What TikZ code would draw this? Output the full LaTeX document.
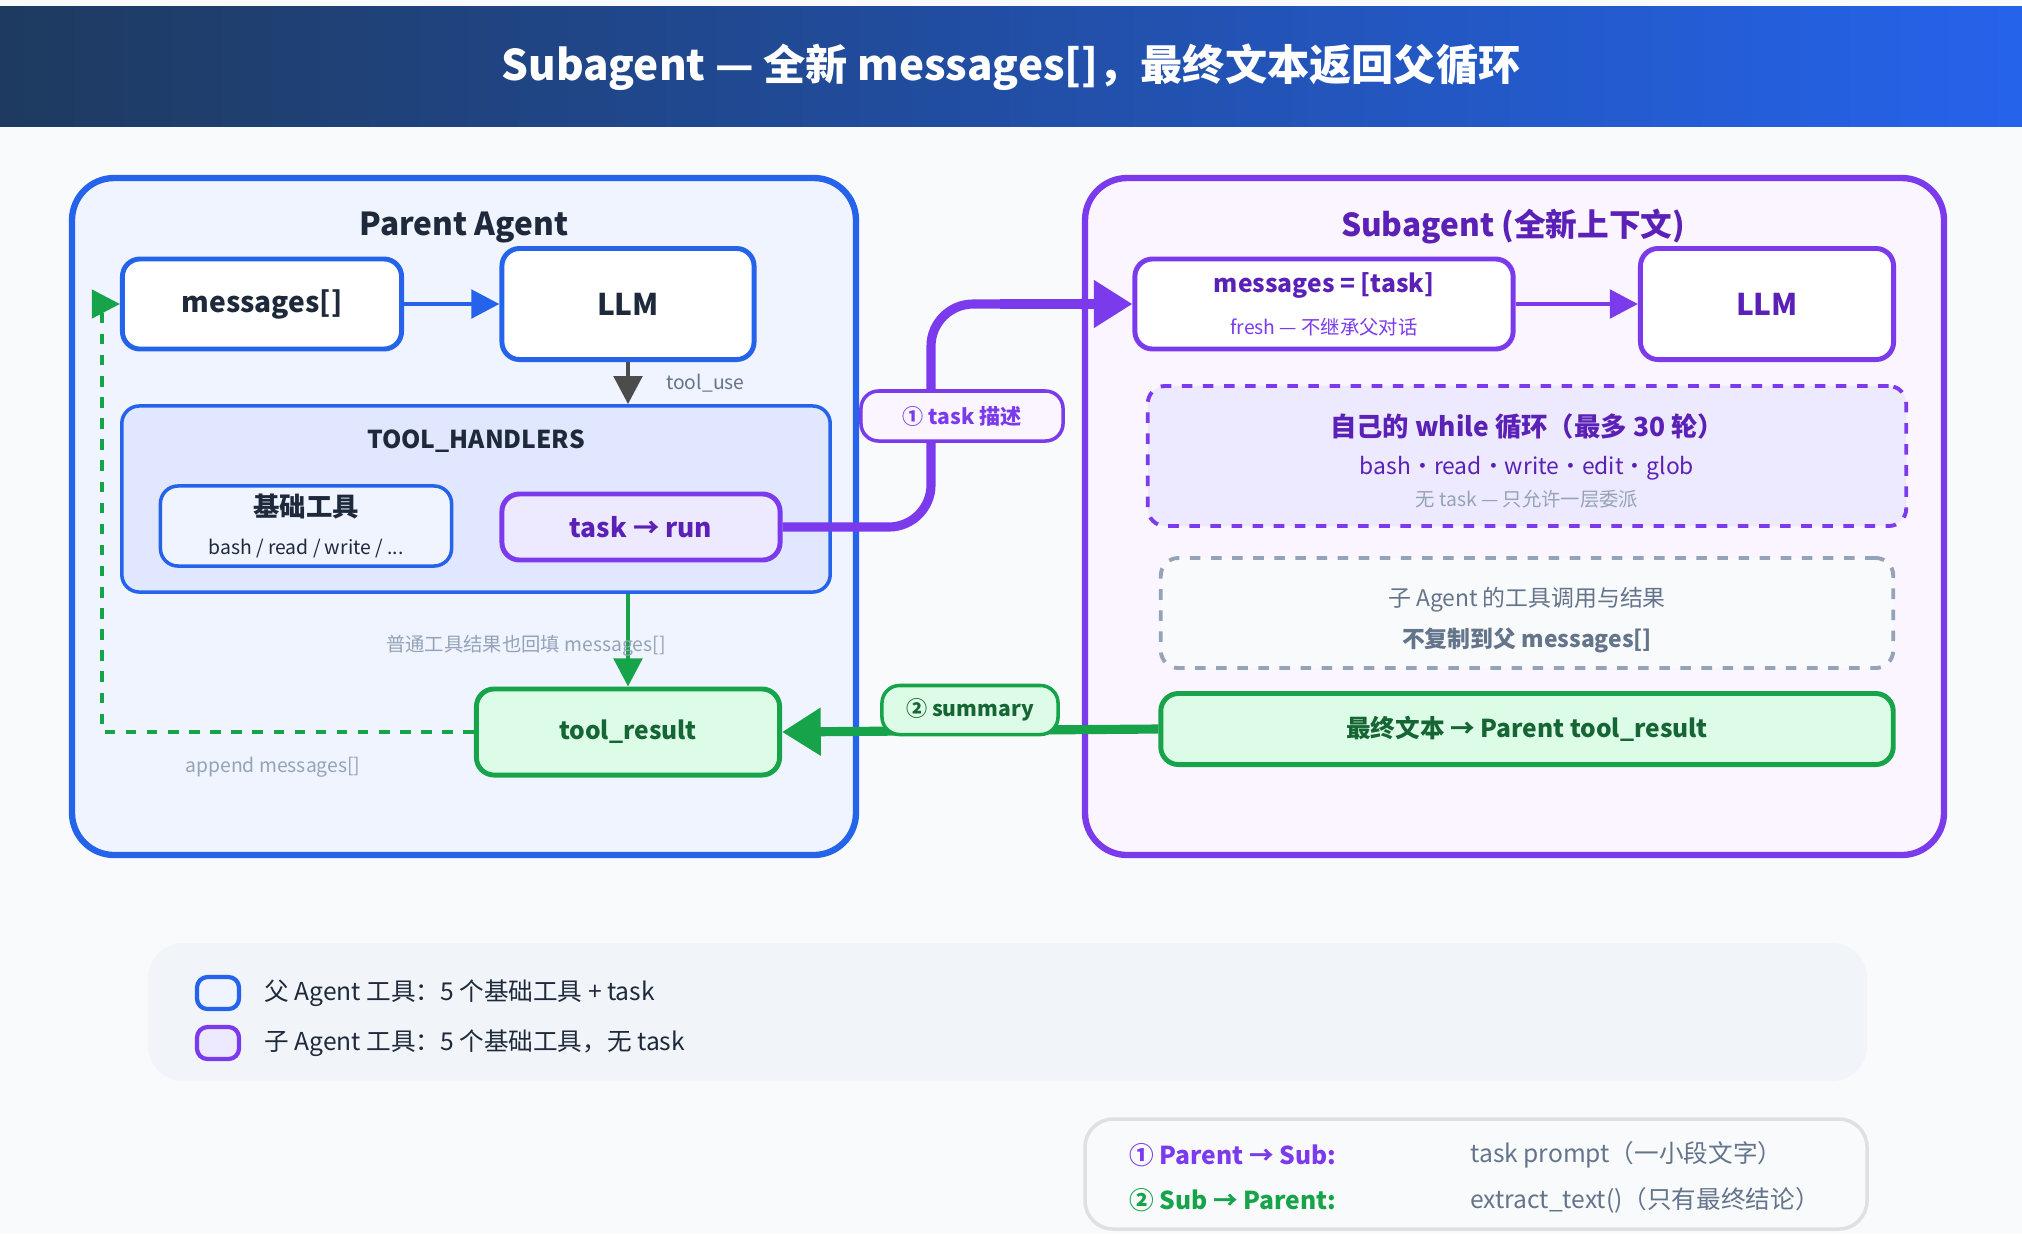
\documentclass[tikz,border=0pt]{standalone}
\usepackage{fontspec}
\setmainfont{Noto Sans CJK SC}
\usetikzlibrary{arrows.meta}

\definecolor{navy}{HTML}{1E3A5F}
\definecolor{pblue}{HTML}{2563EB}
\definecolor{pbg}{HTML}{EFF4FF}
\definecolor{hbg}{HTML}{E0E7FF}
\definecolor{purp}{HTML}{7C3AED}
\definecolor{dpurp}{HTML}{5B21B6}
\definecolor{sbg}{HTML}{FAF5FF}
\definecolor{lbg}{HTML}{EDE9FE}
\definecolor{grn}{HTML}{16A34A}
\definecolor{dgrn}{HTML}{166534}
\definecolor{gbg}{HTML}{DCFCE7}
\definecolor{txt}{HTML}{1E293B}
\definecolor{gry}{HTML}{94A3B8}
\definecolor{dgry}{HTML}{64748B}
\definecolor{page}{HTML}{F8FAFC}
\definecolor{leg}{HTML}{F1F5F9}

\tikzset{
  box/.style={draw, rounded corners=5pt, line width=1.4pt, align=center, inner sep=0pt},
  bluebox/.style={box, draw=pblue, fill=white, text=txt, font=\bfseries\fontsize{8.5}{11}\selectfont},
  purpbox/.style={box, draw=purp, fill=white, text=dpurp, font=\bfseries\fontsize{8.5}{11}\selectfont},
  grnbox/.style={box, draw=grn, fill=gbg, text=dgrn, font=\bfseries\fontsize{7}{9}\selectfont},
  tag/.style={box, line width=1pt, font=\bfseries\fontsize{6}{8}\selectfont},
  small/.style={font=\fontsize{5.5}{7}\selectfont, inner sep=1pt},
  arr/.style={-{Triangle[length=8pt,width=8pt]}},
  bigarr/.style={-{Triangle[length=11pt,width=13pt]}},
}

\begin{document}
\begin{tikzpicture}[x=0.01cm, y=-0.01cm]
	% canvas and header
	\fill [page] (0,0) rectangle (2022,1233);
	\shade [left color=navy, right color=pblue] (0,6) rectangle (2022,126);
	\node [text=white, font=\bfseries\fontsize{12}{14}\selectfont] (title) at (1011,67) {Subagent — 全新 messages[]，最终文本返回父循环};

	% parent side
	\draw [pblue, fill=pbg, line width=1.8pt, rounded corners=12pt] (72,178) rectangle (856,855);
	\node [text=txt, font=\bfseries\fontsize{9}{11}\selectfont] (ptitle) at (464,227) {Parent Agent};
	\node [bluebox, minimum width=2.79cm, minimum height=0.90cm, font=\bfseries\fontsize{8}{10}\selectfont] (pmsg) at (262,304) {messages[]};
	\node [bluebox, minimum width=2.52cm, minimum height=1.11cm] (pllm) at (628,304) {LLM};
	\node [box, draw=pblue, fill=hbg, line width=1pt, minimum width=7.08cm, minimum height=1.86cm] (hand) at (476,499) {};
	\node [text=txt, font=\bfseries\fontsize{7}{9}\selectfont] (htitle) at (476,441) {TOOL\_HANDLERS};
	\node [box, draw=pblue, fill=pbg, line width=1pt, minimum width=2.91cm, minimum height=0.80cm, text=txt] (base) at (306,526)
		{{\bfseries\fontsize{7.5}{9}\selectfont 基础工具}\\[-1pt]{\fontsize{5.5}{7}\selectfont bash / read / write / ...}};
	\node [purpbox, fill=lbg, minimum width=2.78cm, minimum height=0.66cm, font=\bfseries\fontsize{7.5}{9}\selectfont] (run) at (641,527) {task → run};
	\node [grnbox, minimum width=3.03cm, minimum height=0.86cm] (pres) at (628,732) {tool\_result};
	\coordinate (back) at (102,732);
	\coordinate (backup) at (102,304);

	\draw [arr, pblue, line width=1.4pt] (pmsg) -- (pllm);
	\draw [arr, black!70, line width=1.4pt] (pllm) -- (hand.north -| pllm);
	\node [small, text=dgry, anchor=west] (tuse) at (662,383) {tool\_use};
	\draw [arr, grn, line width=1.4pt] (hand.south -| pres) -- (pres);
	\node [small, text=gry] (plain) at (526,646) {普通工具结果也回填 messages[]};
	\draw [arr, grn, line width=1.2pt, dashed] (pres) -- (back) -- (backup) -- (pmsg);
	\node [small, text=gry] (app) at (273,767) {append messages[]};

	% subagent side
	\draw [purp, fill=sbg, line width=1.8pt, rounded corners=12pt] (1085,178) rectangle (1944,855);
	\node [text=dpurp, font=\bfseries\fontsize{9}{11}\selectfont] (stitle) at (1513,227) {Subagent (全新上下文)};
	\node [purpbox, minimum width=3.78cm, minimum height=0.90cm] (smsg) at (1324,304)
		{{\bfseries\fontsize{7}{9}\selectfont messages = [task]}\\[1pt]{\mdseries\fontsize{5.5}{7}\selectfont\color{purp} fresh — 不继承父对话}};
	\node [purpbox, minimum width=2.53cm, minimum height=1.11cm] (sllm) at (1767,304) {LLM};
	\draw [arr, purp, line width=1.4pt] (smsg) -- (sllm);
	\node [box, draw=purp, fill=lbg, dashed, line width=1.1pt, minimum width=7.58cm, minimum height=1.40cm] (loop) at (1527,456) {};
	\node [text=dpurp, font=\bfseries\fontsize{7.5}{9}\selectfont] (ltitle) at (1527,427) {自己的 while 循环（最多 30 轮）};
	\node [text=dpurp, font=\fontsize{6.5}{8}\selectfont] (ltools) at (1527,468) {bash·read·write·edit·glob};
	\node [small, text=gry] (lnote) at (1527,499) {无 task — 只允许一层委派};
	\node [box, draw=gry, fill=page, dashed, line width=1.1pt, minimum width=7.32cm, minimum height=1.10cm] (iso) at (1527,613) {};
	\node [text=dgry, font=\fontsize{6.5}{8}\selectfont] (iso1) at (1527,600) {子 Agent 的工具调用与结果};
	\node [text=dgry, font=\bfseries\fontsize{6.5}{8}\selectfont] (iso2) at (1527,640) {不复制到父 messages[]};
	\node [grnbox, minimum width=7.32cm, minimum height=0.71cm] (sres) at (1527,729) {最终文本 → Parent tool\_result};

	% hand-off between the loops
	\coordinate (up1) at (931,527);
	\coordinate (up2) at (931,304);
	\draw [purp, line width=2.6pt, rounded corners=12pt] (run.east) -- (up1) -- (up2) -- ++(80,0);
	\draw [bigarr, purp, line width=2.6pt] (1000,304) -- (smsg.west);
	\node [tag, draw=purp, fill=sbg, text=purp, minimum width=2.02cm, minimum height=0.50cm] (t1) at (962,416) {① task 描述};
	\draw [bigarr, grn, line width=2.6pt] (sres.west) -- (pres.east);
	\node [tag, draw=grn, fill=gbg, text=dgrn, minimum width=1.76cm, minimum height=0.49cm] (t2) at (970,710) {② summary};

	% legend
	\fill [leg, rounded corners=10pt] (148,943) rectangle (1867,1081);
	\node [box, draw=pblue, fill=pbg, line width=1.2pt, minimum width=0.42cm, minimum height=0.32cm, rounded corners=3pt] (k1) at (218,993) {};
	\node [text=txt, anchor=west, font=\fontsize{7}{9}\selectfont] (k1t) at (252,993) {父 Agent 工具：5 个基础工具 + task};
	\node [box, draw=purp, fill=lbg, line width=1.2pt, minimum width=0.42cm, minimum height=0.32cm, rounded corners=3pt] (k2) at (218,1043) {};
	\node [text=txt, anchor=west, font=\fontsize{7}{9}\selectfont] (k2t) at (252,1043) {子 Agent 工具：5 个基础工具，无 task};

	% flow summary
	\draw [black!12, fill=page, line width=1pt, rounded corners=8pt] (1085,1119) rectangle (1867,1229);
	\node [text=purp, anchor=west, font=\bfseries\fontsize{7}{9}\selectfont] (f1) at (1117,1155) {① Parent → Sub:};
	\node [text=dgry, anchor=west, font=\fontsize{7}{9}\selectfont] (f1t) at (1458,1155) {task prompt（一小段文字）};
	\node [text=grn, anchor=west, font=\bfseries\fontsize{7}{9}\selectfont] (f2) at (1117,1200) {② Sub → Parent:};
	\node [text=dgry, anchor=west, font=\fontsize{7}{9}\selectfont] (f2t) at (1458,1200) {extract\_text()（只有最终结论）};
\end{tikzpicture}
\end{document}
